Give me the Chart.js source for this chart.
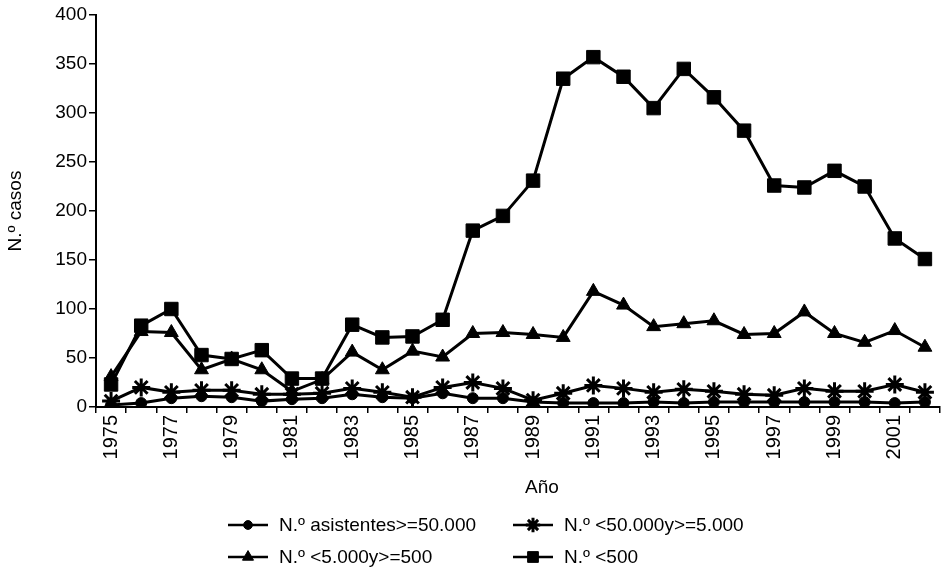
<!DOCTYPE html>
<html lang="es">
<head>
<meta charset="utf-8">
<title>N.º casos por año</title>
<script src="https://cdn.jsdelivr.net/npm/chart.js@4/dist/chart.umd.min.js"></script>
<style>
  html, body { margin: 0; padding: 0; background: #fff; }
  #wrap { width: 952px; height: 572px; position: relative; }
</style>
</head>
<body>
<div id="wrap"><canvas id="chart"></canvas></div>
<script>
// datos
const years = ['1975','1976','1977','1978','1979','1980','1981','1982','1983','1984',
  '1985','1986','1987','1988','1989','1990','1991','1992','1993','1994',
  '1995','1996','1997','1998','1999','2000','2001','2002'];

const asistentes50000 = [2,4,9,11,10,6,8,9,13,10,9,14,9,9,5,4,4,4,5,4,5,5,5,5,5,5,4,5];
const entre5000y50000 = [6,20,15,17,17,13,13,14,19,15,10,20,25,19,7,14,22,19,15,18,16,13,12,19,16,16,23,15];
const entre500y5000 = [31,77,76,38,49,38,16,28,56,38,57,51,75,76,74,71,118,104,82,85,88,74,75,97,75,66,78,61];
const menos500 = [23,83,100,53,49,58,29,29,84,71,72,89,180,195,231,335,357,337,305,345,316,282,226,224,241,225,172,151];

const yTicks = [0, 50, 100, 150, 200, 250, 300, 350, 400];

const FONT = '"Liberation Sans", Arial, sans-serif';
const INK = '#000';

function series(label, data, pointStyle, radius) {
  return {
    label, data, pointStyle,
    borderColor: INK, backgroundColor: INK,
    pointBackgroundColor: INK, pointBorderColor: INK,
    borderWidth: 3, pointRadius: radius, pointBorderWidth: pointStyle === 'star' ? 3 : 1,
    tension: 0, fill: false,
  };
}

// leyenda en dos columnas y título "Año", como en el original
const legendBox = {
  id: 'legendBox',
  afterDraw(chart) {
    const ctx = chart.ctx;
    const cols = [228, 513];
    const rows = [525, 557];
    ctx.save();
    ctx.fillStyle = INK;
    ctx.font = '19px ' + FONT;
    ctx.textAlign = 'center';
    ctx.textBaseline = 'middle';
    ctx.fillText('Año', 542, 488);
    ctx.restore();
    chart.data.datasets.forEach((ds, i) => {
      const x = cols[i % 2], y = rows[Math.floor(i / 2)];
      ctx.save();
      ctx.strokeStyle = INK;
      ctx.lineWidth = 2.5;
      ctx.beginPath();
      ctx.moveTo(x, y);
      ctx.lineTo(x + 40, y);
      ctx.stroke();
      ctx.fillStyle = INK;
      ctx.lineWidth = ds.pointBorderWidth;
      Chart.helpers.drawPoint(ctx, { pointStyle: ds.pointStyle, radius: ds.pointRadius * 0.8, rotation: 0, borderWidth: ds.pointBorderWidth }, x + 20, y);
      ctx.font = '19px ' + FONT;
      ctx.textBaseline = 'middle';
      ctx.textAlign = 'left';
      ctx.fillText(ds.label, x + 51, y + 1);
      ctx.restore();
    });
  }
};

new Chart(document.getElementById('chart'), {
  type: 'line',
  data: {
    labels: years,
    datasets: [
      series('N.º asistentes>=50.000', asistentes50000, 'circle', 5.5),
      series('N.º <50.000y>=5.000', entre5000y50000, 'star', 9),
      series('N.º <5.000y>=500', entre500y5000, 'triangle', 8),
      series('N.º <500', menos500, 'rect', 9.5),
    ]
  },
  options: {
    responsive: true,
    maintainAspectRatio: false,
    animation: false,
    layout: { padding: { top: 15, right: 1, bottom: 65, left: 0 } },
    plugins: {
      legend: { display: false },
      tooltip: { enabled: false },
    },
    scales: {
      x: {
        offset: true,
        afterFit(scale) { scale.height = 100; },
        grid: { offset: true, drawOnChartArea: false, drawTicks: true, tickLength: 6, color: INK, lineWidth: 1.5 },
        border: { display: true, color: INK, width: 2 },
        ticks: {
          color: INK, font: { family: FONT, size: 20 },
          autoSkip: false, minRotation: 90, maxRotation: 90, padding: 2,
          callback: (v, i) => (i % 2 === 0 ? years[i] : ''),
        },
        title: { display: false },
      },
      y: {
        min: 0, max: 400,
        afterFit(scale) { scale.width = 96; },
        afterBuildTicks(scale) { scale.ticks = yTicks.map(v => ({ value: v })); },
        grid: { drawOnChartArea: false, drawTicks: true, tickLength: 7, color: INK, lineWidth: 1.5 },
        border: { display: true, color: INK, width: 2 },
        ticks: { color: INK, font: { family: FONT, size: 19 }, padding: 2 },
        title: { display: true, text: 'N.º casos', color: INK, font: { family: FONT, size: 19 }, padding: { bottom: 2 } },
      }
    }
  },
  plugins: [legendBox]
});
</script>
</body>
</html>
